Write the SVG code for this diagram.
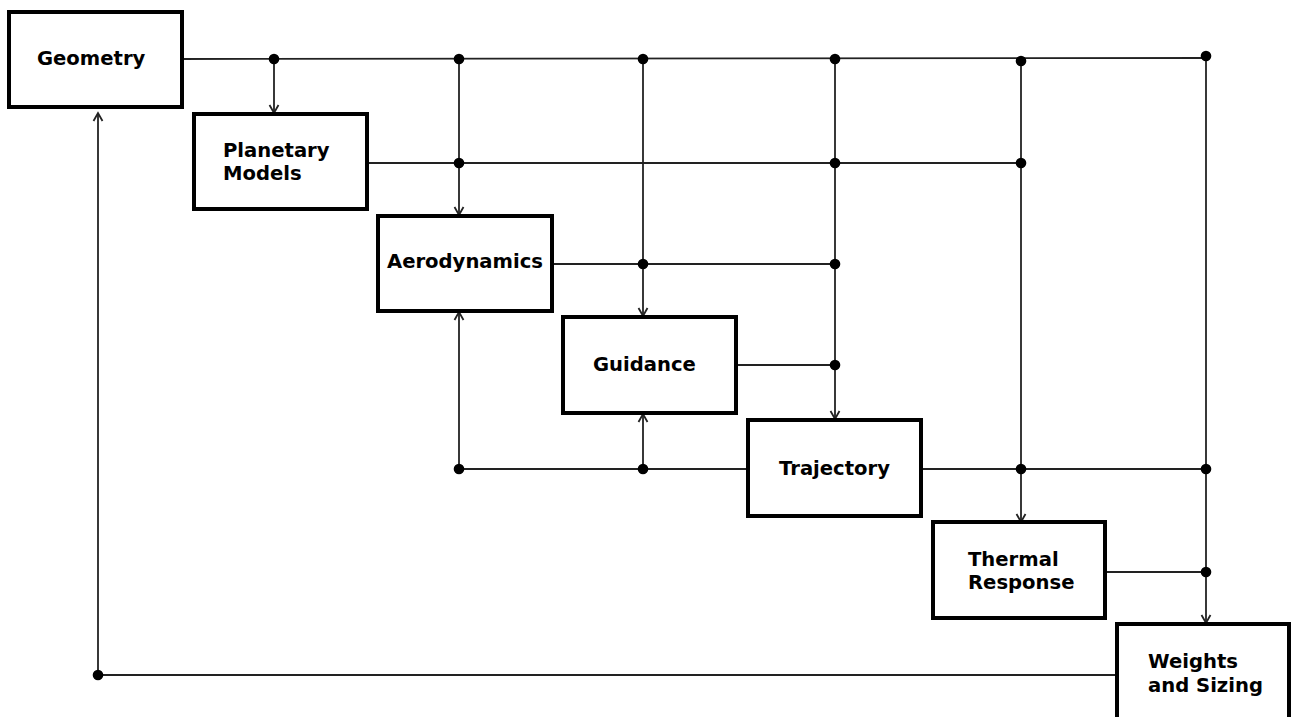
<svg xmlns="http://www.w3.org/2000/svg" width="1294" height="717" viewBox="0 0 1294 717">
<style>
.box{fill:#fff;stroke:#000;stroke-width:4}
.lbl{font-family:"DejaVu Sans",Verdana,sans-serif;font-weight:bold;font-size:19.6px;fill:#000}
.ln{stroke:#222;stroke-width:1.8;fill:none}
.arr{marker-end:url(#ah)}
.dot{fill:#000}
</style>
<defs>
<marker id="ah" markerUnits="userSpaceOnUse" markerWidth="12" markerHeight="12" viewBox="0 0 12 12" refX="10" refY="6" orient="auto">
<path d="M2,1.5 L10,6 L2,10.5" fill="none" stroke="#222" stroke-width="1.8"/>
</marker>
</defs>
<rect width="1294" height="717" fill="#fff"/>
<g id="connectors">
<line class="ln" x1="182" y1="59" x2="1206" y2="58"/>
<line class="ln arr" x1="274" y1="59" x2="274" y2="113"/>
<line class="ln" x1="367" y1="163" x2="1021" y2="163"/>
<line class="ln arr" x1="459" y1="59" x2="459" y2="215"/>
<line class="ln" x1="552" y1="264" x2="835" y2="264"/>
<line class="ln arr" x1="643" y1="59" x2="643" y2="316"/>
<line class="ln" x1="736" y1="365" x2="835" y2="365"/>
<line class="ln arr" x1="835" y1="59" x2="835" y2="419"/>
<line class="ln" x1="459" y1="469" x2="747" y2="469"/>
<line class="ln arr" x1="459" y1="469" x2="459" y2="312"/>
<line class="ln arr" x1="643" y1="469" x2="643" y2="414"/>
<line class="ln" x1="921" y1="469" x2="1206" y2="469"/>
<line class="ln arr" x1="1021" y1="61" x2="1021" y2="522"/>
<line class="ln" x1="1105" y1="572" x2="1206" y2="572"/>
<line class="ln arr" x1="1206" y1="56" x2="1206" y2="623"/>
<line class="ln" x1="1116" y1="675" x2="98" y2="675"/>
<line class="ln arr" x1="98" y1="675" x2="98" y2="113"/>
<circle class="dot" cx="274" cy="59" r="5.3"/>
<circle class="dot" cx="459" cy="59" r="5.3"/>
<circle class="dot" cx="643" cy="59" r="5.3"/>
<circle class="dot" cx="835" cy="59" r="5.3"/>
<circle class="dot" cx="1021" cy="61" r="5.3"/>
<circle class="dot" cx="1206" cy="56" r="5.3"/>
<circle class="dot" cx="459" cy="163" r="5.3"/>
<circle class="dot" cx="835" cy="163" r="5.3"/>
<circle class="dot" cx="1021" cy="163" r="5.3"/>
<circle class="dot" cx="643" cy="264" r="5.3"/>
<circle class="dot" cx="835" cy="264" r="5.3"/>
<circle class="dot" cx="835" cy="365" r="5.3"/>
<circle class="dot" cx="459" cy="469" r="5.3"/>
<circle class="dot" cx="643" cy="469" r="5.3"/>
<circle class="dot" cx="1021" cy="469" r="5.3"/>
<circle class="dot" cx="1206" cy="469" r="5.3"/>
<circle class="dot" cx="1206" cy="572" r="5.3"/>
<circle class="dot" cx="98" cy="675" r="5.3"/>
</g>
<g id="geometry">
<rect class="box" x="9" y="12" width="173" height="95"/>
<text class="lbl" x="37" y="65">Geometry</text>
</g>
<g id="planetary-models">
<rect class="box" x="194" y="114" width="173" height="95"/>
<text class="lbl" x="223" y="157">Planetary</text>
<text class="lbl" x="223" y="180">Models</text>
</g>
<g id="aerodynamics">
<rect class="box" x="378" y="216" width="174" height="95"/>
<text class="lbl" x="387" y="268">Aerodynamics</text>
</g>
<g id="guidance">
<rect class="box" x="563" y="317" width="173" height="96"/>
<text class="lbl" x="593" y="371">Guidance</text>
</g>
<g id="trajectory">
<rect class="box" x="748" y="420" width="173" height="96"/>
<text class="lbl" x="779" y="475">Trajectory</text>
</g>
<g id="thermal-response">
<rect class="box" x="933" y="522" width="172" height="96"/>
<text class="lbl" x="968" y="566">Thermal</text>
<text class="lbl" x="968" y="589">Response</text>
</g>
<g id="weights-and-sizing">
<rect class="box" x="1117" y="624" width="172" height="100"/>
<text class="lbl" x="1148" y="668">Weights</text>
<text class="lbl" x="1148" y="692">and Sizing</text>
</g>
</svg>
